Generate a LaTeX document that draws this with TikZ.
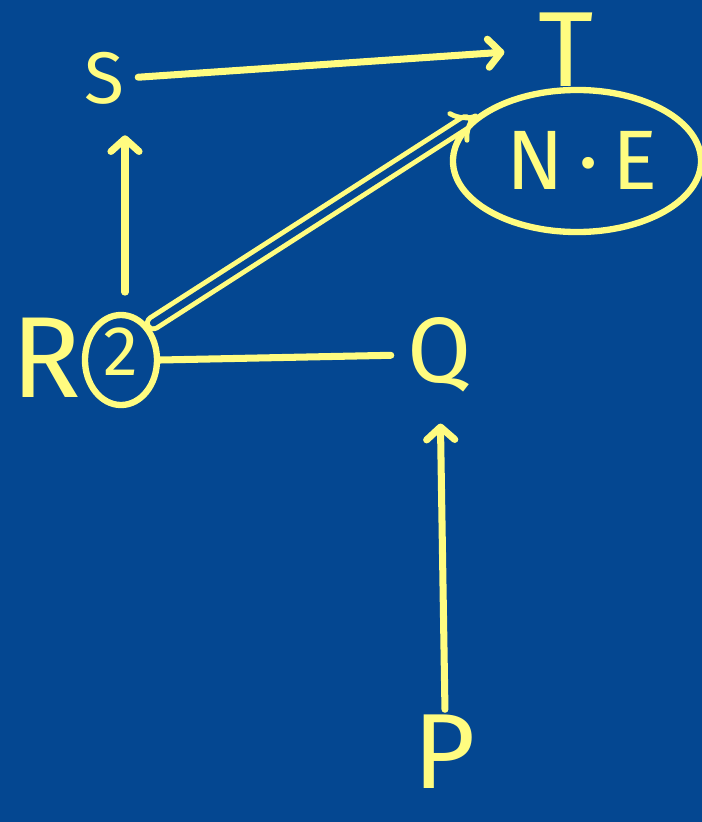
\documentclass[tikz,border=0pt]{standalone}
\usepackage{fontspec}
\setmainfont{Fira Sans}
\usetikzlibrary{arrows.meta, positioning, shapes.geometric}
\definecolor{colBoard}{RGB}{4,71,145}
\definecolor{colChalk}{RGB}{255,252,128}
\newcommand{\fsz}[1]{\fontsize{#1}{#1}\selectfont}
\tikzset{
  lbl/.style   = {text=colChalk, inner sep=2pt},
  ring/.style  = {draw=colChalk, ellipse, line width=4.5pt},
  arr/.style   = {draw=colChalk, line width=5pt, line cap=round,
                  -{Straight Barb[length=9pt, width=20pt, round]}},
  dblarr/.style= {draw=colChalk, line width=3.5pt, line cap=round,
                  double=colBoard, double distance=5pt, -{Implies[round]}},
  plain/.style = {draw=colChalk, line width=5pt, line cap=round},
}

\begin{document}
\begin{tikzpicture}[x=0.025cm, y=-0.025cm]

%% ── board ───────────────────────────────────────────────────────────────────
\fill[colBoard] (0,0) rectangle (702,822);
\useasboundingbox (0,0) rectangle (702,822);

%% ── nodes ───────────────────────────────────────────────────────────────────
\node[lbl, font=\fsz{52}] (s)  at (104,78)  {S};
\node[lbl, font=\fsz{76}] (t)  at (566,50)  {T};
\node[ring, minimum width=6.2cm, minimum height=3.55cm] (ne) at (577,161) {};
\node[lbl, font=\fsz{60}] (nel) at (582,160) {N\,·\,E};
\node[lbl, font=\fsz{82}] (r)  at (46,358)  {R};
\node[ring, minimum width=1.8cm, minimum height=2.25cm] (rc) at (121,360) {};
\node[lbl, font=\fsz{50}] (rcl) at (121,352) {2};
\node[lbl, font=\fsz{66}] (q)  at (440,355) {Q};
\node[lbl, font=\fsz{76}] (p)  at (445,752) {P};

%% ── arrows ──────────────────────────────────────────────────────────────────
\draw[arr, shorten <=14pt, shorten >=20pt] (rc.north -| 125,0) -- (s.south -| 125,0);
\draw[arr, shorten <=8pt, shorten >=22pt] (s.east) -- (t.west);
\draw[dblarr, shorten <=4pt, shorten >=8pt] (rc.north east) -- (ne.north west);
\draw[plain, shorten >=10pt] (rc.east) -- (q.west);
\draw[arr, shorten <=2pt, shorten >=20pt] (p.north) -- (q.south);

\end{tikzpicture}
\end{document}
